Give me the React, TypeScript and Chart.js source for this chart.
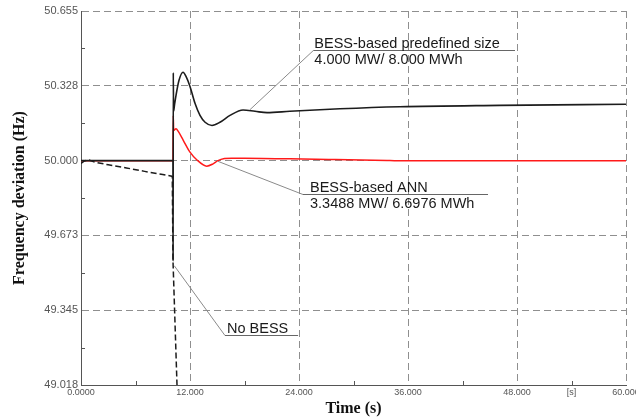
import React, { useEffect, useRef } from "react";
import { Chart, registerables } from "chart.js";

Chart.register(...registerables);

// ---- data ----
const predefinedTime = [0, 10.12, 10.14, 10.16, 10.19, 10.3, 10.46, 10.79, 11.23, 11.56, 12.0, 12.55, 13.1, 13.66, 14.42, 15.3, 16.4, 17.84, 19.16, 20.48, 23.0, 28.5, 35.1, 46.1, 60];
const predefinedValue = [50.0, 50.0, 49.56, 50.385, 50.216, 50.245, 50.286, 50.352, 50.387, 50.369, 50.325, 50.251, 50.198, 50.168, 50.154, 50.168, 50.198, 50.222, 50.216, 50.21, 50.216, 50.227, 50.236, 50.242, 50.247];

const annTime = [0, 10.12, 10.16, 10.2, 10.46, 10.71, 11.26, 12.0, 12.74, 13.84, 14.5, 15.08, 15.8, 16.6, 18.0, 20.0, 23.0, 28.0, 33.7, 34.5, 60];
const annValue = [50.0, 50.0, 50.198, 50.132, 50.14, 50.128, 50.089, 50.037, 50.004, 49.976, 49.985, 50.0, 50.009, 50.011, 50.01, 50.009, 50.008, 50.005, 50.001, 50.0, 50.0];

const noBessTime = [0, 0.35, 0.8, 1.2, 1.54, 3, 5, 7, 9, 10.0, 10.05, 10.13, 10.57, 10.65];
const noBessValue = [49.988, 49.998, 50.004, 49.998, 49.993, 49.982, 49.968, 49.953, 49.939, 49.932, 49.93, 49.56, 49.018, 48.92];

const yMajorTicks = [49.018, 49.345, 49.673, 50.0, 50.328, 50.655];
const xMajorTicks = [0, 12, 24, 36, 48, 60];
const xMajorLabels = ["0.0000", "12.000", "24.000", "36.000", "48.000", "60.000"];
const xUnitTick = 54;
const xUnitLabel = "[s]";

const yTitle = "Frequency deviation (Hz)";
const xTitle = "Time (s)";

// annotation callouts (data coordinates)
const calloutLines = [
  ["BESS-based predefined size", "4.000 MW/ 8.000 MWh"],
  ["BESS-based ANN", "3.3488 MW/ 6.6976 MWh"],
  ["No BESS"],
];
const calloutAnchors = [[18.6, 50.223], [15.08, 49.997], [10.27, 49.54]];
const calloutElbows = [[25.58, 50.484], [24.44, 49.852], [15.85, 49.237]];
const calloutEnds = [47.78, 44.81, 23.9];

const zip = (t: number[], v: number[]) => t.map((x, i) => ({ x, y: v[i] }));

const yMinorTicks = yMajorTicks.slice(1).map((v, i) => (v + yMajorTicks[i]) / 2);
const xMinorTicks = xMajorTicks.slice(1).map((v, i) => (v + xMajorTicks[i]) / 2);

const isClose = (a: number, b: number) => Math.abs(a - b) < 1e-6;

const GRID = "#8f8f8f";
const AXIS = "#555555";

const minorTickPlugin = {
  id: "minorTicks",
  afterDraw(chart: any) {
    const { ctx, chartArea, scales } = chart;
    ctx.save();
    ctx.strokeStyle = AXIS;
    ctx.lineWidth = 1;
    ctx.beginPath();
    yMinorTicks.forEach((v) => {
      const y = Math.round(scales.y.getPixelForValue(v)) + 0.5;
      ctx.moveTo(chartArea.left, y);
      ctx.lineTo(chartArea.left + 4, y);
    });
    xMinorTicks.forEach((v) => {
      const x = Math.round(scales.x.getPixelForValue(v)) + 0.5;
      ctx.moveTo(x, chartArea.bottom);
      ctx.lineTo(x, chartArea.bottom - 4);
    });
    ctx.stroke();
    ctx.restore();
  },
};

const calloutPlugin = {
  id: "callouts",
  afterDatasetsDraw(chart: any) {
    const { ctx, scales } = chart;
    const textOffsets = [1, 7, 2];
    ctx.save();
    calloutLines.forEach((lines, i) => {
      const ax = scales.x.getPixelForValue(calloutAnchors[i][0]);
      const ay = scales.y.getPixelForValue(calloutAnchors[i][1]);
      const ex = scales.x.getPixelForValue(calloutElbows[i][0]);
      const ey = Math.round(scales.y.getPixelForValue(calloutElbows[i][1])) + 0.5;
      const endX = scales.x.getPixelForValue(calloutEnds[i]);
      ctx.strokeStyle = "#8a8a8a";
      ctx.lineWidth = 1;
      ctx.beginPath();
      ctx.moveTo(ax, ay);
      ctx.lineTo(ex, ey);
      ctx.stroke();
      ctx.strokeStyle = "#666666";
      ctx.beginPath();
      ctx.moveTo(ex, ey);
      ctx.lineTo(endX, ey);
      ctx.stroke();
      ctx.fillStyle = "#1a1a1a";
      ctx.font = '14.5px "Liberation Sans", Arial, sans-serif';
      ctx.textAlign = "left";
      ctx.textBaseline = "alphabetic";
      ctx.fillText(lines[0], ex + textOffsets[i], ey - 2.5);
      if (lines[1]) ctx.fillText(lines[1], ex + textOffsets[i], ey + 13);
    });
    ctx.restore();
  },
};

export default function App() {
  const canvasRef = useRef<HTMLCanvasElement | null>(null);

  useEffect(() => {
    const canvas = canvasRef.current;
    if (!canvas) return;
    const chart = new Chart(canvas, {
      type: "line",
      data: {
        datasets: [
          {
            label: "BESS-based predefined size",
            data: zip(predefinedTime, predefinedValue),
            borderColor: "#1c1c1c",
            borderWidth: 1.6,
            pointRadius: 0,
            cubicInterpolationMode: "monotone",
            fill: false,
          },
          {
            label: "No BESS",
            data: zip(noBessTime, noBessValue),
            borderColor: "#1c1c1c",
            borderWidth: 1.5,
            borderDash: [6, 3],
            pointRadius: 0,
            tension: 0,
            fill: false,
          },
          {
            label: "BESS-based ANN",
            data: zip(annTime, annValue),
            borderColor: "#ff1a1a",
            borderWidth: 1.5,
            pointRadius: 0,
            cubicInterpolationMode: "monotone",
            fill: false,
          },
        ],
      },
      options: {
        responsive: false,
        animation: false,
        devicePixelRatio: 1,
        layout: { padding: { top: 11, right: 10, left: 0, bottom: 0 } },
        plugins: {
          legend: { display: false },
          tooltip: { enabled: false },
        },
        scales: {
          x: {
            type: "linear",
            min: 0,
            max: 60,
            afterBuildTicks: (scale: any) => {
              const vals = [...xMajorTicks, ...xMinorTicks].sort((a, b) => a - b);
              scale.ticks = vals.map((value) => ({ value }));
            },
            afterFit: (scale: any) => {
              scale.height = 35;
              scale.paddingLeft = 0;
              scale.paddingRight = 0;
            },
            ticks: {
              autoSkip: false,
              maxRotation: 0,
              padding: 2,
              color: "#555555",
              font: { family: '"Liberation Sans", Arial, sans-serif', size: 9 },
              callback: (value: any) => {
                const v = Number(value);
                const idx = xMajorTicks.findIndex((m) => isClose(m, v));
                if (idx >= 0) return xMajorLabels[idx];
                if (isClose(v, xUnitTick)) return xUnitLabel;
                return "";
              },
            },
            grid: {
              drawTicks: false,
              lineWidth: 1,
              color: (ctx: any) =>
                ctx.tick && xMajorTicks.some((m) => isClose(m, ctx.tick.value)) ? GRID : "rgba(0,0,0,0)",
            },
            border: { display: true, color: AXIS, width: 1, dash: [7, 4] },
            title: {
              display: true,
              text: xTitle,
              color: "#111111",
              font: { family: '"Liberation Serif", "Times New Roman", serif', size: 16, weight: "bold" },
              padding: { top: 0, bottom: 2 },
            },
          },
          y: {
            type: "linear",
            min: yMajorTicks[0],
            max: yMajorTicks[yMajorTicks.length - 1],
            afterBuildTicks: (scale: any) => {
              const vals = [...yMajorTicks, ...yMinorTicks].sort((a, b) => a - b);
              scale.ticks = vals.map((value) => ({ value }));
            },
            afterFit: (scale: any) => {
              scale.width = 81;
              scale.paddingTop = 0;
              scale.paddingBottom = 0;
            },
            ticks: {
              autoSkip: false,
              padding: 3,
              color: "#555555",
              font: { family: '"Liberation Sans", Arial, sans-serif', size: 11 },
              callback: (value: any) => {
                const v = Number(value);
                return yMajorTicks.some((m) => isClose(m, v)) ? v.toFixed(3) : "";
              },
            },
            grid: {
              drawTicks: false,
              lineWidth: 1,
              color: (ctx: any) =>
                ctx.tick && yMajorTicks.some((m) => isClose(m, ctx.tick.value)) ? GRID : "rgba(0,0,0,0)",
            },
            border: { display: true, color: AXIS, width: 1, dash: [7, 4] },
            title: {
              display: true,
              text: yTitle,
              color: "#111111",
              font: { family: '"Liberation Serif", "Times New Roman", serif', size: 16, weight: "bold" },
              padding: { top: 10, bottom: 0 },
            },
          },
        },
      } as any,
      plugins: [minorTickPlugin, calloutPlugin],
    });
    return () => chart.destroy();
  }, []);

  return (
    <div style={{ position: "fixed", left: 0, top: 0, width: 636, height: 420, background: "#ffffff" }}>
      <canvas ref={canvasRef} width={636} height={420} style={{ display: "block" }} />
    </div>
  );
}
